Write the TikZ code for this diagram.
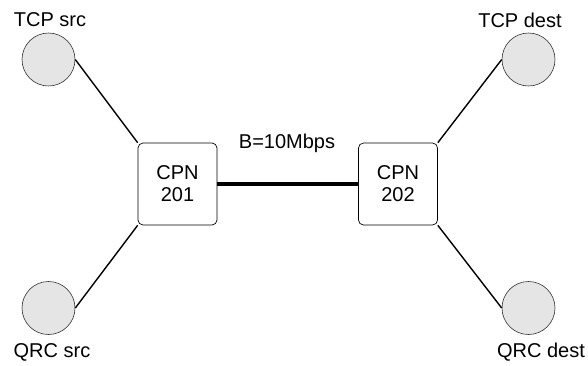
\documentclass[tikz,border=0pt]{standalone}
\usepackage{fontspec}
\setmainfont{Liberation Sans}
\begin{document}
\begin{tikzpicture}[x=1pt,y=-1pt,
  host/.style={circle,draw=black!80,line width=0.6pt,fill=black!10,minimum size=53pt,inner sep=0pt},
  router/.style={draw,rounded corners=5pt,line width=0.7pt,minimum width=79pt,minimum height=82pt,align=center,inner sep=0pt,font=\fontsize{20}{24}\selectfont},
  lbl/.style={font=\fontsize{20}{24}\selectfont,inner sep=0pt},
  link/.style={line width=1.4pt},
  trunk/.style={line width=4pt}]
\useasboundingbox (0,0) rectangle (588,365);
\node[host] (ts) at (48.5,59.5) {};
\node[host] (td) at (528.5,59.5) {};
\node[host] (qs) at (48.5,308) {};
\node[host] (qd) at (528.5,308) {};
\node[lbl] (tsl) at (50,20) {TCP src};
\node[lbl] (tdl) at (520,20) {TCP dest};
\node[lbl] (qsl) at (52,352) {QRC src};
\node[lbl] (qdl) at (541,352) {QRC dest};
\node[router] (c1) at (177.5,184) {CPN\\[-2pt]201};
\node[router] (c2) at (398,184) {CPN\\[-2pt]202};
\node[lbl] (bw) at (287,143) {B=10Mbps};
\draw[link] (ts.east) -- (c1.north west);
\draw[link] (qs.east) -- (c1.south west);
\draw[link] (td.west) -- (c2.north east);
\draw[link] (qd.west) -- (c2.south east);
\draw[trunk] (c1.east) -- (c2.west);
\end{tikzpicture}
\end{document}
